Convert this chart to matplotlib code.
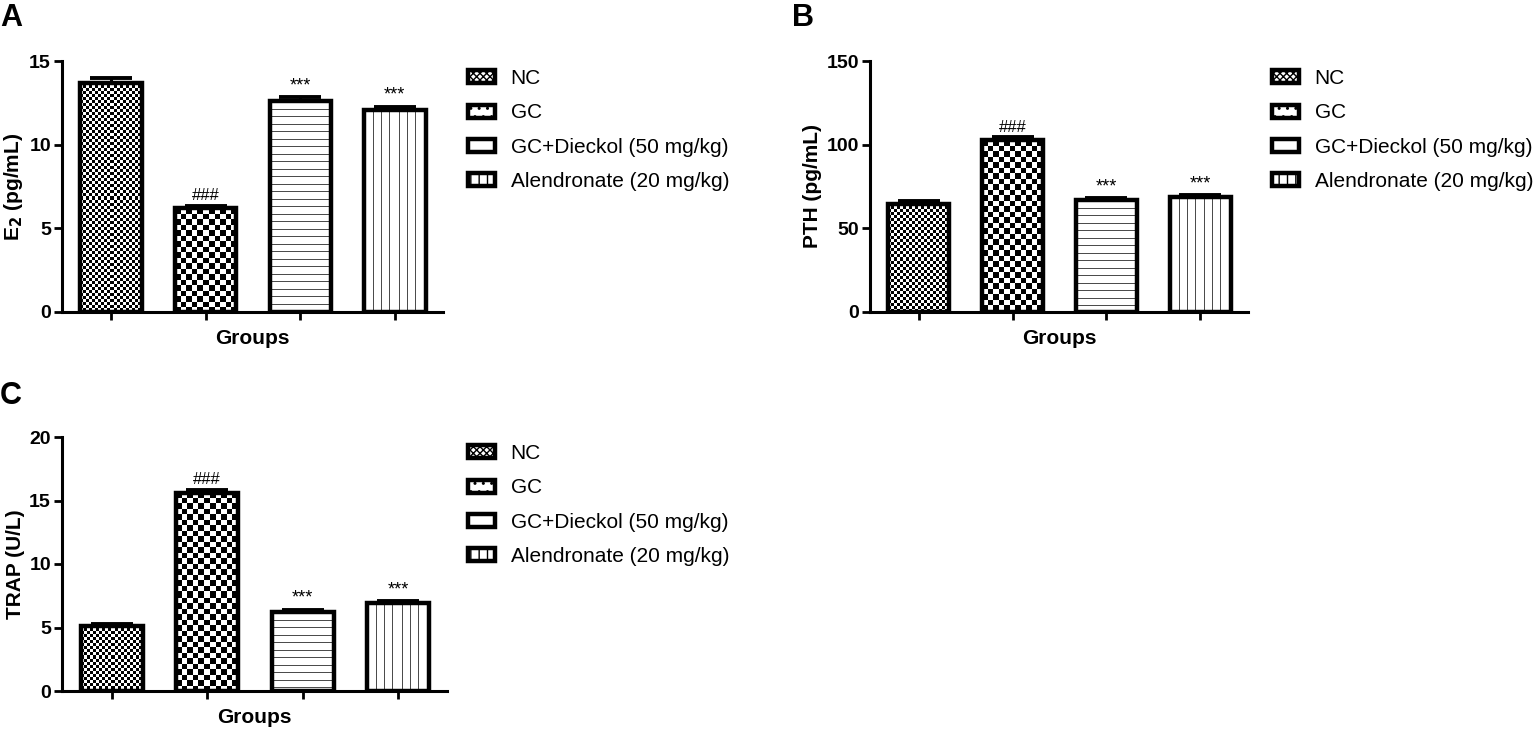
import numpy as np
import matplotlib
matplotlib.use('Agg')
import matplotlib.pyplot as plt
from matplotlib.patches import Patch

plt.rcParams['font.family'] = ['Liberation Sans', 'DejaVu Sans']

# DATA
groups = ['NC', 'GC', 'GC+Dieckol (50 mg/kg)', 'Alendronate (20 mg/kg)']

e2_mean = [13.7, 6.2, 12.6, 12.05]
e2_err = [0.3, 0.15, 0.25, 0.22]
pth_mean = [64.8, 102.5, 66.8, 68.8]
pth_err = [1.3, 1.8, 1.4, 1.2]
trap_mean = [5.12, 15.6, 6.22, 6.92]
trap_err = [0.18, 0.25, 0.18, 0.18]

e2_sig = ['', '###', '***', '***']
pth_sig = ['', '###', '***', '***']
trap_sig = ['', '###', '***', '***']

# fill styles per group: (kind, period in px)
fills = [('checker', 3), ('checker', 5.5), ('hline', 7.5), ('vline', 8.3)]
legend_hatch = ['xxxxx', '..', '', '||']


def pattern_fill(ax, bar, kind, period):
    x0, y0 = bar.get_x(), bar.get_y()
    w, h = bar.get_width(), bar.get_height()
    (px0, py0), (px1, py1) = ax.transData.transform([(x0, y0), (x0 + w, y0 + h)])
    nx, ny = max(int(round(px1 - px0)), 1), max(int(round(py1 - py0)), 1)
    jj, ii = np.meshgrid(np.arange(nx), np.arange(ny))
    if kind == 'checker':
        dark = ((np.floor(ii / period) + np.floor(jj / period)) % 2) == 0
        img = np.where(dark, 0.0, 1.0)
    elif kind == 'hline':
        img = np.where(np.floor(ii % period) == 0, 0.3, 1.0)
    else:
        img = np.where(np.floor(jj % period) == 0, 0.3, 1.0)
    im = ax.imshow(img, cmap='gray', vmin=0, vmax=1, origin='upper',
                   extent=(x0, x0 + w, y0, y0 + h), interpolation='nearest',
                   aspect='auto', zorder=2)
    im.set_clip_path(bar)


def panel(ax, means, errs, sig, ymax, ystep, ylabel):
    x = np.arange(len(means))
    xlim = (-0.52, 3.51)
    ax.set_xlim(*xlim)
    ax.set_ylim(0, ymax)
    bars = ax.bar(x, means, width=0.65, facecolor='none', edgecolor='black',
                  linewidth=3.2, zorder=3)
    for b, (kind, per) in zip(bars, fills):
        pattern_fill(ax, b, kind, per)
    ax.set_xlim(*xlim)
    ax.set_ylim(0, ymax)
    ax.errorbar(x, means, yerr=[np.zeros(len(errs)), errs], fmt='none',
                ecolor='black', elinewidth=2.2, capsize=15, capthick=2.8, zorder=4)
    for xi, m, e, s in zip(x, means, errs, sig):
        if s:
            ax.annotate(s, (xi, m + e), xytext=(0, 2), textcoords='offset points',
                        ha='center', va='bottom',
                        fontsize=12 if s.startswith('#') else 13)
    ax.set_yticks(np.arange(0, ymax + 0.1, ystep))
    ax.set_xticks(x)
    ax.set_xticklabels([])
    for sp in ['top', 'right']:
        ax.spines[sp].set_visible(False)
    for sp in ['left', 'bottom']:
        ax.spines[sp].set_linewidth(2.2)
    ax.tick_params(axis='y', length=6, width=2, labelsize=14, pad=2)
    ax.tick_params(axis='x', length=6, width=2)
    for lab in ax.get_yticklabels():
        lab.set_fontweight('bold')
    ax.set_xlabel('Groups', fontsize=15, fontweight='bold', labelpad=3)
    ax.set_ylabel(ylabel, fontsize=15, fontweight='bold', labelpad=3)


def add_legend(ax, fx, fy):
    handles = [Patch(facecolor='white', edgecolor='black', linewidth=3.2, hatch=h)
               for h in legend_hatch]
    ax.legend(handles, groups, loc='upper left', bbox_to_anchor=(fx, fy),
              bbox_transform=ax.figure.transFigure, frameon=False, fontsize=15,
              handlelength=1.3, handleheight=0.58, handletextpad=0.75,
              labelspacing=0.74, borderpad=0, borderaxespad=0)


fig = plt.figure(figsize=(15.35, 7.31), dpi=100)
W, H = 1535, 731


def axes_px(l, r, t, b):
    return fig.add_axes([l / W, 1 - b / H, (r - l) / W, (b - t) / H])


axA = axes_px(62, 443, 61, 312)
axB = axes_px(870, 1248, 61, 312)
axC = axes_px(62, 447, 437, 691)

panel(axA, e2_mean, e2_err, e2_sig, 15, 5, 'E$_\\mathbf{2}$ (pg/mL)')
panel(axB, pth_mean, pth_err, pth_sig, 150, 50, 'PTH (pg/mL)')
panel(axC, trap_mean, trap_err, trap_sig, 20, 5, 'TRAP (U/L)')

add_legend(axA, 468 / W, 1 - 69 / H)
add_legend(axB, 1272 / W, 1 - 69 / H)
add_legend(axC, 468 / W, 1 - 444 / H)

fig.text(0.0, 1 - 3 / H, 'A', fontsize=22, fontweight='bold', va='top', ha='left')
fig.text(792 / W, 1 - 3 / H, 'B', fontsize=22, fontweight='bold', va='top', ha='left')
fig.text(0.0, 1 - 381 / H, 'C', fontsize=22, fontweight='bold', va='top', ha='left')

fig.savefig('out.png', dpi=100)
